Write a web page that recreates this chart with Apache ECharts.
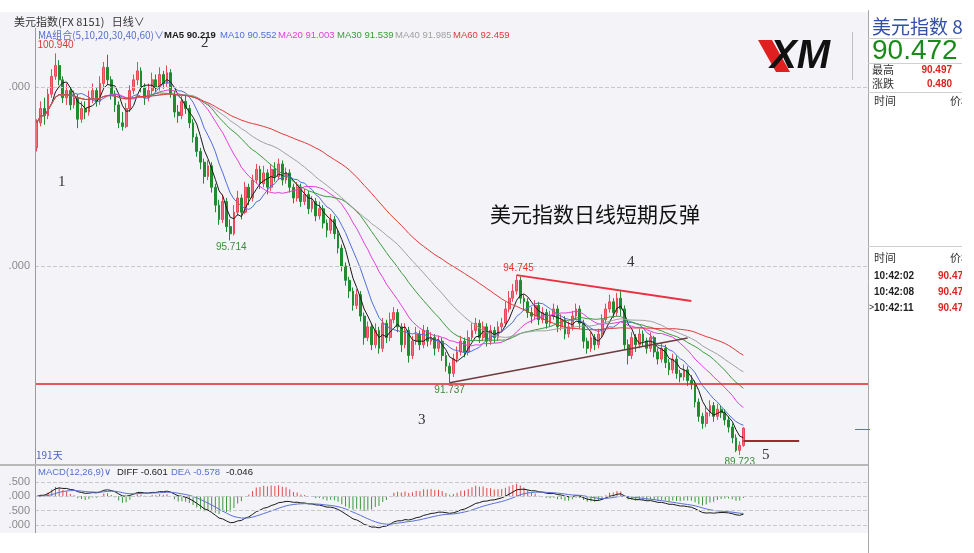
<!DOCTYPE html>
<html><head><meta charset="utf-8">
<script src="https://cdn.jsdelivr.net/npm/echarts@6/dist/echarts.min.js"></script>
<style>html,body{margin:0;padding:0;background:#fff}#c{width:974px;height:553px}</style>
</head><body><div id="c"></div>
<script>
// [open, close, low, high]
const candles = [
[98.30,99.00,98.20,99.10],[99.00,99.40,98.90,99.60],[99.40,99.20,98.95,99.70],[99.20,99.80,99.10,99.95],[99.80,100.30,99.70,100.50],
[100.30,100.60,100.20,100.94],[100.60,100.20,100.05,100.75],[100.20,99.70,99.55,100.30],[99.70,99.90,99.50,100.10],[99.90,99.50,99.35,100.00],
[99.50,99.70,99.40,99.90],[99.70,99.10,98.85,99.80],[99.10,99.40,99.00,99.60],[99.40,99.30,99.10,99.60],[99.30,99.70,99.20,99.90],
[99.70,99.90,99.55,100.10],[99.90,99.60,99.45,100.00],[99.60,100.10,99.50,100.30],[100.10,100.55,100.00,100.70],[100.55,100.20,100.05,100.90],
[100.20,99.80,99.65,100.30],[99.80,99.50,99.30,99.90],[99.50,99.00,98.85,99.60],[99.00,98.90,98.78,99.30],[98.90,99.40,98.85,99.55],
[99.40,99.90,99.30,100.05],[99.90,100.20,99.80,100.35],[100.20,100.45,100.05,100.70],[100.45,100.00,99.85,100.55],[100.00,99.70,99.50,100.10],
[99.70,99.90,99.60,100.10],[99.90,100.20,99.80,100.40],[100.20,100.00,99.85,100.35],[100.00,100.35,99.90,100.55],[100.35,100.10,99.95,100.45],
[100.10,100.40,100.00,100.60],[100.40,99.80,99.70,100.50],[99.80,99.30,99.15,99.90],[99.30,99.20,99.00,99.50],[99.20,99.60,99.10,99.75],
[99.60,99.40,99.25,99.80],[99.40,99.00,98.85,99.50],[99.00,98.60,98.45,99.10],[98.60,98.20,98.05,98.70],[98.20,97.90,97.70,98.30],
[97.90,97.50,97.30,98.00],[97.50,97.80,97.40,97.95],[97.80,97.20,97.05,97.90],[97.20,96.70,96.50,97.30],[96.70,96.30,96.15,96.85],
[96.30,96.80,96.20,97.00],[96.80,96.10,95.95,96.90],[96.10,95.90,95.714,96.30],[95.90,96.50,95.85,96.70],[96.50,96.90,96.40,97.10],
[96.90,96.50,96.30,97.00],[96.50,97.20,96.45,97.35],[97.20,96.90,96.70,97.30],[96.90,97.40,96.80,97.55],[97.40,97.70,97.30,97.85],
[97.70,97.30,97.15,97.80],[97.30,97.60,97.20,97.80],[97.60,97.20,97.00,97.70],[97.20,97.70,97.10,97.85],[97.70,97.50,97.35,97.90],
[97.50,97.85,97.40,98.00],[97.85,97.40,97.25,97.95],[97.40,97.60,97.30,97.75],[97.60,97.20,97.05,97.70],[97.20,96.90,96.75,97.30],
[96.90,97.20,96.80,97.35],[97.20,96.80,96.65,97.30],[96.80,97.00,96.70,97.15],[97.00,96.60,96.45,97.10],[96.60,96.80,96.50,96.95],
[96.80,96.40,96.25,96.90],[96.40,96.60,96.30,96.80],[96.60,96.20,96.05,96.70],[96.20,96.00,95.80,96.30],[96.00,96.30,95.90,96.45],
[96.30,95.90,95.75,96.40],[95.90,95.50,95.35,96.00],[95.50,95.00,94.85,95.60],[95.00,94.60,94.45,95.10],[94.60,94.30,94.10,94.70],
[94.30,93.90,93.75,94.40],[93.90,94.20,93.80,94.35],[94.20,93.60,93.45,94.30],[93.60,93.00,92.80,93.70],[93.00,93.30,92.90,93.45],
[93.30,92.80,92.65,93.40],[92.80,93.20,92.70,93.40],[93.20,92.70,92.55,93.30],[92.70,93.40,92.60,93.55],[93.40,93.00,92.85,93.50],
[93.00,93.50,92.90,93.70],[93.50,93.70,93.40,93.85],[93.70,93.30,93.15,93.80],[93.30,92.80,92.60,93.40],[92.80,93.20,92.70,93.40],
[93.20,92.50,92.30,93.30],[92.50,92.90,92.40,93.05],[92.90,93.10,92.80,93.30],[93.10,92.80,92.65,93.20],[92.80,93.20,92.70,93.35],
[93.20,92.90,92.75,93.30],[92.90,93.00,92.80,93.15],[93.00,92.70,92.50,93.10],[92.70,92.90,92.60,93.05],[92.90,92.50,92.35,93.00],
[92.50,92.20,92.05,92.60],[92.20,92.00,91.737,92.30],[92.00,92.40,91.90,92.55],[92.40,92.60,92.30,92.75],[92.60,92.90,92.50,93.05],
[92.90,92.60,92.45,93.00],[92.60,93.00,92.50,93.20],[93.00,93.20,92.90,93.40],[93.20,93.40,93.10,93.55],[93.40,93.00,92.85,93.50],
[93.00,93.30,92.90,93.45],[93.30,92.90,92.75,93.40],[92.90,93.20,92.80,93.35],[93.20,93.00,92.85,93.30],[93.00,93.30,92.90,93.45],
[93.30,93.40,93.15,93.55],[93.40,93.80,93.30,94.00],[93.80,94.10,93.70,94.30],[94.10,94.30,94.00,94.50],[94.30,94.60,94.20,94.745],
[94.60,94.10,93.95,94.70],[94.10,94.00,93.75,94.20],[94.00,93.70,93.55,94.10],[93.70,93.60,93.40,93.85],[93.60,93.90,93.50,94.05],
[93.90,93.50,93.35,94.00],[93.50,93.70,93.40,93.85],[93.70,93.40,93.25,93.80],[93.40,93.60,93.30,93.75],[93.60,93.80,93.50,93.95],
[93.80,93.30,93.15,93.90],[93.30,93.50,93.20,93.65],[93.50,93.10,92.95,93.60],[93.10,93.30,93.00,93.45],[93.30,93.60,93.20,93.75],
[93.60,93.80,93.50,93.95],[93.80,93.40,93.25,93.90],[93.40,92.90,92.70,93.50],[92.90,92.70,92.55,93.00],[92.70,93.00,92.60,93.15],
[93.00,92.80,92.65,93.10],[92.80,93.10,92.70,93.25],[93.10,93.50,93.00,93.65],[93.50,93.80,93.40,93.95],[93.80,94.00,93.70,94.20],
[94.00,93.70,93.55,94.10],[93.70,94.10,93.60,94.25],[94.10,93.80,93.60,94.30],[93.80,92.80,92.65,93.90],[92.80,92.50,92.25,92.95],
[92.50,93.00,92.40,93.15],[93.00,92.80,92.60,93.10],[92.80,93.10,92.70,93.25],[93.10,92.90,92.75,93.20],[92.90,92.70,92.55,93.00],
[92.70,93.00,92.60,93.15],[93.00,92.60,92.45,93.05],[92.60,92.40,92.25,92.70],[92.40,92.70,92.30,92.85],[92.70,92.30,92.15,92.80],
[92.30,92.10,91.95,92.40],[92.10,92.40,92.00,92.55],[92.40,92.00,91.85,92.50],[92.00,91.90,91.75,92.10],[91.90,92.10,91.80,92.25],
[92.10,91.80,91.65,92.20],[91.80,91.70,91.55,91.95],[91.70,91.20,91.05,91.80],[91.20,90.80,90.65,91.30],[90.80,90.60,90.45,90.90],
[90.60,90.90,90.50,91.05],[90.90,91.10,90.80,91.25],[91.10,90.80,90.65,91.20],[90.80,91.00,90.70,91.15],[91.00,90.90,90.75,91.10],
[90.90,90.70,90.55,91.00],[90.70,90.50,90.35,90.80],[90.50,90.20,90.05,90.60],[90.20,89.85,89.80,90.30],[89.85,89.99,89.723,90.10],
[89.99,90.472,89.95,90.497]
];
const slotCount = 224;
const maPeriods = [5, 10, 20, 30, 40, 60];
const maColors = ['#1a1a1a', '#4f6fd6', '#e040d8', '#3c9a3c', '#a0a0a0', '#e03838'];
const maLegend = ['MA5 90.219', 'MA10 90.552', 'MA20 91.003', 'MA30 91.539', 'MA40 91.985', 'MA60 92.459'];
const priceTicks = [95, 100];
const macdTicks = [0.5, 0, -0.5, -1.0];
const extremes = [
  {i: 5, v: 100.94, text: '100.940', color: '#e03838', off: [0, -8]},
  {i: 52, v: 95.714, text: '95.714', color: '#3c8a3c', off: [1, 7]},
  {i: 111, v: 91.737, text: '91.737', color: '#3c8a3c', off: [0, 7]},
  {i: 129, v: 94.745, text: '94.745', color: '#e03838', off: [2, -7]},
  {i: 189, v: 89.723, text: '89.723', color: '#3c8a3c', off: [0, 7]}
];
const upperTrend = [[129, 94.745], [176, 94.02]];
const lowerTrend = [[111, 91.737], [175, 92.99]];
const supportLevel = 91.70;
const shortLine = [[190, 90.11], [205, 90.11]];

const categories = Array.from({length: slotCount}, (_, i) => String(i + 1));
const closes = candles.map(c => c[1]);
function movingAverage(n) {
  return closes.map((_, i) => {
    const s = Math.max(0, i - n + 1); let sum = 0;
    for (let k = s; k <= i; k++) sum += closes[k];
    return +(sum / (i - s + 1)).toFixed(3);
  });
}
const diff = [], dea = [], hist = [];
let e12, e26, d9;
closes.forEach((c, i) => {
  if (i === 0) { e12 = c; e26 = c; }
  else { e12 += (c - e12) * 2 / 13; e26 += (c - e26) * 2 / 27; }
  const d = e12 - e26;
  d9 = i === 0 ? d : d9 + (d - d9) * 2 / 10;
  diff.push(+d.toFixed(4)); dea.push(+d9.toFixed(4)); hist.push(+(2 * (d - d9)).toFixed(4));
});

const decimalPart = v => { const s = Math.abs(v).toFixed(3); return s.slice(s.indexOf('.')); };
const dashed = {type: 'dashed', color: '#c8c8cc', width: 1};

const chart = echarts.init(document.getElementById('c'));
const UI = '"Noto Sans CJK SC", "Liberation Sans", sans-serif';
const NUM = '"Liberation Sans", Arial, sans-serif';
function T(x, y, text, o) {
  o = o || {};
  return {type: 'text', x: x, y: y, z: 100, silent: true,
    style: {text: text, fill: o.color || '#333', font: o.font || ('10px ' + NUM),
      textAlign: o.align || 'left', textVerticalAlign: 'middle'}};
}
function L(x1, y1, x2, y2, color, w, z) {
  return {type: 'line', z: z == null ? 50 : z, silent: true, shape: {x1, y1, x2, y2}, style: {stroke: color, lineWidth: w || 1}};
}
const graphics = [
  {type: 'rect', z: -10, silent: true, shape: {x: 0, y: 0, width: 974, height: 12}, style: {fill: '#ffffff'}},
  {type: 'rect', z: -10, silent: true, shape: {x: 868, y: 0, width: 106, height: 553}, style: {fill: '#ffffff'}},
  {type: 'rect', z: -10, silent: true, shape: {x: 0, y: 533, width: 868, height: 20}, style: {fill: '#ffffff'}},
  L(868.5, 10, 868.5, 553, '#a8a8a8', 1),
  L(35.5, 28, 35.5, 533, '#9a9a9a', 1),
  L(0, 465, 868, 465, '#b8b8b8', 2),
  L(868, 38.5, 962, 38.5, '#d0d0d0', 1),
  L(868, 63.5, 962, 63.5, '#d0d0d0', 1),
  L(868, 92.5, 962, 92.5, '#d0d0d0', 1),
  L(868, 246.5, 962, 246.5, '#d0d0d0', 1),
  L(855, 429.5, 870, 429.5, '#6070c0', 1),
  T(14, 22, '美元指数(FX 8151)   日线∨', {font: '11px ' + UI, color: '#333'}),
  T(38, 35, 'MA组合(5,10,20,30,40,60)∨', {font: '10px ' + UI, color: '#5570d0'}),
  T(36, 455, '191天', {font: '10px ' + UI, color: '#4a5fc0'}),
  T(38, 472, 'MACD(12,26,9)∨', {font: '9.5px ' + NUM, color: '#5570d0'}),
  T(117, 472, 'DIFF -0.601', {font: '9.5px ' + NUM, color: '#222'}),
  T(171, 472, 'DEA -0.578', {font: '9.5px ' + NUM, color: '#5570d0'}),
  T(226, 472, '-0.046', {font: '9.5px ' + NUM, color: '#222'}),
  T(58, 182, '1', {font: '15px "Liberation Serif", serif', color: '#333'}),
  T(201, 43, '2', {font: '15px "Liberation Serif", serif', color: '#333'}),
  T(418, 420, '3', {font: '15px "Liberation Serif", serif', color: '#333'}),
  T(627, 262, '4', {font: '15px "Liberation Serif", serif', color: '#333'}),
  T(762, 455, '5', {font: '15px "Liberation Serif", serif', color: '#333'}),
  T(490, 214, '美元指数日线短期反弹', {font: '21px "Noto Sans CJK SC", sans-serif', color: '#111'}),
  // XM logo
  {type: 'polygon', z: 90, silent: true, shape: {points: [[758, 40], [772, 40], [790, 72], [776, 72]]}, style: {fill: '#e02020'}},
  T(770, 57, 'XM', {font: 'italic bold 40px "Liberation Sans", Arial', color: '#111'}),
  L(852.5, 32, 852.5, 80, '#c0c0c0', 1),
  // right panel
  T(872, 27, '美元指数 8151', {font: '19px ' + UI, color: '#3350a8'}),
  T(872, 51, '90.472', {font: '28px ' + NUM, color: '#1b8a1b'}),
  T(872, 70, '最高', {font: '11px ' + UI, color: '#333'}),
  T(952, 70, '90.497', {font: 'bold 10px ' + NUM, color: '#e02020', align: 'right'}),
  T(872, 84, '涨跌', {font: '11px ' + UI, color: '#333'}),
  T(952, 84, '0.480', {font: 'bold 10px ' + NUM, color: '#e02020', align: 'right'}),
  T(874, 101, '时间', {font: '11px ' + UI, color: '#333'}),
  T(950, 101, '价格', {font: '11px ' + UI, color: '#333'}),
  T(874, 258, '时间', {font: '11px ' + UI, color: '#333'}),
  T(950, 258, '价格', {font: '11px ' + UI, color: '#333'}),
  T(874, 276, '10:42:02', {font: 'bold 10px ' + NUM, color: '#222'}),
  T(938, 276, '90.472', {font: 'bold 10px ' + NUM, color: '#e02020'}),
  T(874, 292, '10:42:08', {font: 'bold 10px ' + NUM, color: '#222'}),
  T(938, 292, '90.472', {font: 'bold 10px ' + NUM, color: '#e02020'}),
  T(869, 308, '>', {font: '9px ' + NUM, color: '#222'}),
  T(874, 308, '10:42:11', {font: 'bold 10px ' + NUM, color: '#222'}),
  T(938, 308, '90.472', {font: 'bold 10px ' + NUM, color: '#e02020'}),
  {type: 'rect', z: 200, silent: true, shape: {x: 962, y: 12, width: 12, height: 541}, style: {fill: '#ffffff'}}
];
const legendX = [164, 220, 278, 337, 395, 453];
maLegend.forEach((t, k) => graphics.push(T(legendX[k], 35, t, {font: (k === 0 ? 'bold ' : '') + '9.5px ' + NUM, color: maColors[k]})));

const series = [{
  type: 'candlestick', name: 'K', xAxisIndex: 0, yAxisIndex: 0, data: candles, barWidth: '62%',
  itemStyle: {color: '#f26d7a', borderColor: '#e84858', color0: '#1f8c2f', borderColor0: '#1f8c2f', borderWidth: 1},
  markPoint: {silent: true, symbol: 'circle', symbolSize: 0, animation: false,
    data: extremes.map(e => ({coord: [e.i, e.v], label: {show: true, formatter: e.text, offset: e.off, color: e.color, fontSize: 10, fontFamily: NUM}}))},
  markLine: {silent: true, symbol: 'none', animation: false, label: {show: false},
    data: [
      {yAxis: 100, lineStyle: dashed}, {yAxis: 95, lineStyle: dashed},
      {yAxis: supportLevel, lineStyle: {type: 'solid', color: '#e02424', width: 1.5}},
      [{coord: upperTrend[0], lineStyle: {type: 'solid', color: '#ea3040', width: 2}}, {coord: upperTrend[1]}],
      [{coord: lowerTrend[0], lineStyle: {type: 'solid', color: '#6e3a3e', width: 1.6}}, {coord: lowerTrend[1]}],
      [{coord: shortLine[0], lineStyle: {type: 'solid', color: '#9c2a30', width: 2}}, {coord: shortLine[1]}]
    ]}
}];
maPeriods.forEach((n, k) => series.push({type: 'line', xAxisIndex: 0, yAxisIndex: 0, data: movingAverage(n), showSymbol: false, silent: true,
  lineStyle: {width: 1, color: maColors[k]}, z: 3}));
series.push({type: 'bar', xAxisIndex: 1, yAxisIndex: 1, data: hist, barWidth: 1, silent: true,
  itemStyle: {color: p => p.value >= 0 ? '#e24a4a' : '#3a9a3a'},
  markLine: {silent: true, symbol: 'none', animation: false, label: {show: false}, data: macdTicks.map(v => ({yAxis: v, lineStyle: dashed}))}});
series.push({type: 'line', xAxisIndex: 1, yAxisIndex: 1, data: diff, showSymbol: false, silent: true, lineStyle: {width: 1, color: '#1a1a1a'}});
series.push({type: 'line', xAxisIndex: 1, yAxisIndex: 1, data: dea, showSymbol: false, silent: true, lineStyle: {width: 1, color: '#5a70d4'}});

const hiddenX = gi => ({type: 'category', gridIndex: gi, data: categories, boundaryGap: true,
  axisLine: {show: false}, axisTick: {show: false}, axisLabel: {show: false}, splitLine: {show: false}});
chart.setOption({
  animation: false,
  backgroundColor: '#f4f4f8',
  grid: [{left: 35, right: 106, top: 28, height: 434}, {left: 35, right: 106, top: 476, height: 54}],
  xAxis: [hiddenX(0), hiddenX(1)],
  yAxis: [
    {type: 'value', gridIndex: 0, min: 89.525, max: 101.648, scale: true,
      axisLine: {show: false}, axisTick: {show: false}, splitLine: {show: false},
      axisLabel: {customValues: priceTicks, formatter: decimalPart, color: '#8a8a8a', fontSize: 11, fontFamily: NUM, margin: 5}},
    {type: 'value', gridIndex: 1, min: -1.174, max: 0.709,
      axisLine: {show: false}, axisTick: {show: false}, splitLine: {show: false},
      axisLabel: {customValues: macdTicks, formatter: decimalPart, color: '#8a8a8a', fontSize: 11, fontFamily: NUM, margin: 5}}
  ],
  series: series,
  graphic: graphics
});
</script></body></html>
